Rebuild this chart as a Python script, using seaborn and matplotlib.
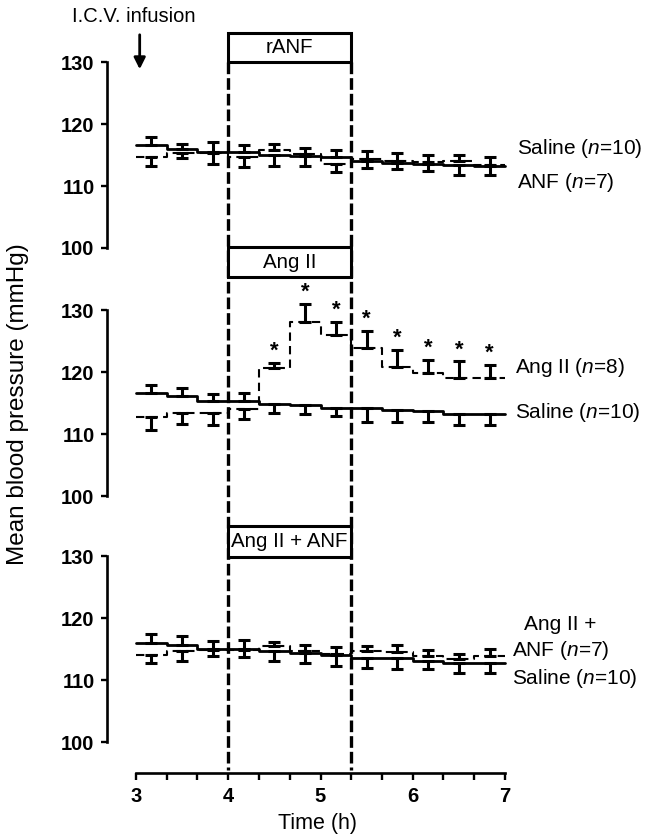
import numpy as np
import pandas as pd
import matplotlib
matplotlib.use('Agg')
import matplotlib.pyplot as plt
import seaborn as sns
from matplotlib.lines import Line2D
from matplotlib.patches import Rectangle, FancyArrowPatch
from matplotlib.transforms import blended_transform_factory

# 20-min recording periods (start of each period, in minutes)
period_start_min = [180, 200, 220, 240, 260, 280, 300, 320, 340, 360, 380, 400]
period_len_min = 20
infusion_start_min = 240
infusion_end_min = 320

# Panel 1: rANF vs saline
p1_saline = [116.6, 115.9, 115.5, 115.5, 115.0, 114.8, 114.7, 114.0, 113.7, 113.6, 113.4, 113.3]
p1_saline_sem = [1.3, 0.9, 1.6, 1.1, 1.7, 1.6, 1.1, 1.6, 1.7, 1.4, 1.7, 1.6]
p1_saline_dir = [1, 1, 1, 1, -1, -1, 1, 1, 1, 1, -1, -1]
p1_anf = [114.6, 115.4, 115.3, 114.6, 115.8, 115.1, 113.6, 114.3, 114.0, 113.8, 114.0, 113.4]
p1_anf_sem = [1.3, 0.9, 1.8, 1.6, 0.9, 1.0, 1.4, 1.4, 1.2, 1.3, 1.0, 1.3]
p1_anf_dir = [-1, -1, -1, -1, 1, 1, -1, -1, -1, -1, 1, 1]

# Panel 2: Ang II vs saline
p2_saline = [116.6, 116.1, 115.4, 115.3, 114.8, 114.6, 114.2, 114.2, 113.9, 113.7, 113.2, 113.2]
p2_saline_sem = [1.3, 1.3, 1.1, 1.3, 1.4, 1.4, 1.3, 2.2, 1.9, 1.7, 1.7, 1.7]
p2_saline_dir = [1, 1, 1, 1, -1, -1, -1, -1, -1, -1, -1, -1]
p2_angii = [112.7, 113.4, 113.4, 114.0, 120.6, 128.0, 125.9, 123.9, 120.8, 119.8, 119.0, 119.0]
p2_angii_sem = [2.0, 1.8, 1.9, 1.5, 0.9, 3.0, 2.1, 2.7, 2.8, 2.2, 2.7, 2.2]
p2_angii_dir = [-1, -1, -1, -1, 1, 1, 1, 1, 1, 1, 1, 1]
p2_angii_signif = [0, 0, 0, 0, 1, 1, 1, 1, 1, 1, 1, 1]

# Panel 3: Ang II + ANF vs saline
p3_saline = [115.9, 115.7, 115.0, 115.0, 114.6, 114.4, 114.1, 113.6, 113.5, 113.1, 112.8, 112.8]
p3_saline_sem = [1.6, 1.4, 1.3, 1.5, 1.5, 1.7, 1.8, 1.6, 1.7, 1.3, 1.6, 1.7]
p3_saline_dir = [1, 1, 1, 1, -1, -1, -1, -1, -1, -1, -1, -1]
p3_mix = [114.1, 114.6, 114.8, 114.8, 115.5, 114.7, 114.2, 114.7, 114.5, 113.8, 113.4, 113.8]
p3_mix_sem = [1.4, 1.5, 0.9, 1.1, 0.6, 1.0, 1.1, 0.8, 1.2, 1.0, 0.8, 1.2]
p3_mix_dir = [-1, -1, -1, -1, 1, 1, 1, 1, 1, 1, 1, 1]

yticks = [100, 110, 120, 130]
xtick_labels = ['3', '4', '5', '6', '7']

sns.set_theme(style='ticks')
plt.rcParams['font.family'] = ['Liberation Sans', 'DejaVu Sans']
plt.rcParams['mathtext.fontset'] = 'custom'
plt.rcParams['mathtext.it'] = 'Liberation Sans:italic'
plt.rcParams['mathtext.rm'] = 'Liberation Sans'
plt.rcParams['text.color'] = 'black'
plt.rcParams['xtick.labelcolor'] = 'black'
plt.rcParams['ytick.labelcolor'] = 'black'

W, H = 647, 840
fig = plt.figure(figsize=(W / 100, H / 100), dpi=100)

# layout in pixels
x3_px, x7_px = 136, 505
hour_px = (x7_px - x3_px) / 4
xlo, xhi = 2.95, 7.05
ax_left = x3_px - (3 - xlo) * hour_px
ax_width = (xhi - xlo) * hour_px
ylo, yhi = 95, 134


def panel_axes(y100_px, y130_px):
    unit = (y100_px - y130_px) / 30
    bottom = y100_px + (100 - ylo) * unit
    top = y130_px - (yhi - 130) * unit
    ax = fig.add_axes([ax_left / W, 1 - bottom / H, ax_width / W, (bottom - top) / H])
    ax.set_xlim(xlo, xhi)
    ax.set_ylim(ylo, yhi)
    ax.patch.set_alpha(0)
    for s in ['top', 'right', 'bottom']:
        ax.spines[s].set_visible(False)
    ax.spines['left'].set_position(('outward', (ax_left - 107) * 0.72))
    ax.spines['left'].set_bounds(100, 130)
    ax.spines['left'].set_linewidth(1.9)
    ax.spines['left'].set_color('black')
    ax.set_yticks(yticks)
    ax.set_yticklabels([str(v) for v in yticks], fontsize=14.5, fontweight='bold')
    ax.tick_params(axis='y', length=4, width=1.7, color='black', pad=5)
    ax.set_xticks([])
    ax.set_xlabel('')
    ax.set_ylabel('')
    return ax


def draw_series(ax, mean, sem, err_dir, dashed):
    starts = np.array(period_start_min) / 60
    ends = starts + period_len_min / 60
    mids = (starts + ends) / 2
    df = pd.DataFrame({'t': np.append(starts, ends[-1]), 'bp': np.append(mean, mean[-1])})
    if dashed:
        sns.lineplot(data=df, x='t', y='bp', ax=ax, drawstyle='steps-post', color='black',
                     lw=1.5, linestyle=(0, (4, 2.5)), errorbar=None)
    else:
        sns.lineplot(data=df, x='t', y='bp', ax=ax, drawstyle='steps-post', color='black',
                     lw=2.0, errorbar=None)
    lower = [s if d < 0 else 0 for s, d in zip(sem, err_dir)]
    upper = [s if d > 0 else 0 for s, d in zip(sem, err_dir)]
    ax.errorbar(mids, mean, yerr=[lower, upper], fmt='none', ecolor='black',
                elinewidth=2.2, capsize=4.2, capthick=2.2)
    ax.set_xlabel('')
    ax.set_ylabel('')
    return mids


ax1 = panel_axes(248, 62)
ax2 = panel_axes(496, 310)
ax3 = panel_axes(742, 556)

draw_series(ax1, p1_saline, p1_saline_sem, p1_saline_dir, False)
draw_series(ax1, p1_anf, p1_anf_sem, p1_anf_dir, True)

draw_series(ax2, p2_saline, p2_saline_sem, p2_saline_dir, False)
mids = draw_series(ax2, p2_angii, p2_angii_sem, p2_angii_dir, True)
for m, v, s, sig in zip(mids, p2_angii, p2_angii_sem, p2_angii_signif):
    if sig:
        ax2.text(m, v + s + 0.2, '*', ha='center', va='bottom', fontsize=16,
                 fontweight='bold', clip_on=False)

draw_series(ax3, p3_saline, p3_saline_sem, p3_saline_dir, False)
draw_series(ax3, p3_mix, p3_mix_sem, p3_mix_dir, True)

# time axis on bottom panel
ax3.spines['bottom'].set_visible(True)
ax3.spines['bottom'].set_bounds(3, 7)
ax3.spines['bottom'].set_linewidth(1.9)
ax3.spines['bottom'].set_color('black')
tick_pos = np.arange(180, 421, 20) / 60
ax3.set_xticks(tick_pos)
ax3.set_xticklabels([xtick_labels[i // 3] if i % 3 == 0 else '' for i in range(len(tick_pos))],
                    fontsize=14.5, fontweight='bold')
ax3.tick_params(axis='x', length=5, width=1.7, color='black', pad=5)

# series labels
lab_kw = dict(fontsize=15, va='center', ha='left', clip_on=False)
ax1.text(7.13, 116.1, 'Saline ($n$=10)', **lab_kw)
ax1.text(7.13, 110.5, 'ANF ($n$=7)', **lab_kw)
ax2.text(7.11, 120.8, 'Ang II ($n$=8)', **lab_kw)
ax2.text(7.11, 113.5, 'Saline ($n$=10)', **lab_kw)
ax3.text(7.21, 119.0, 'Ang II +', **lab_kw)
ax3.text(7.08, 114.7, 'ANF ($n$=7)', **lab_kw)
ax3.text(7.08, 110.3, 'Saline ($n$=10)', **lab_kw)

# infusion period: dashed verticals and boxes
trans = blended_transform_factory(ax3.transData, fig.transFigure)
t0 = infusion_start_min / 60
t1 = infusion_end_min / 60
for t in (t0, t1):
    fig.add_artist(Line2D([t, t], [1 - 62 / H, 1 - 770 / H], transform=trans, color='black',
                          lw=2.4, linestyle=(0, (3.5, 1.2)), zorder=2))
boxes = [('rANF', 33, 62), ('Ang II', 247, 277), ('Ang II + ANF', 526, 557)]
for label, ytop, ybot in boxes:
    fig.add_artist(Rectangle((t0, 1 - ybot / H), t1 - t0, (ybot - ytop) / H, transform=trans,
                             facecolor='white', edgecolor='black', lw=2.2, zorder=3))
    fig.text((t0 + t1) / 2, 1 - (ytop + ybot) / 2 / H, label, transform=trans,
             ha='center', va='center', fontsize=14.8, zorder=4)

# infusion arrow
fig.add_artist(FancyArrowPatch((3.04, 1 - 32 / H), (3.04, 1 - 72 / H),
                               transform=trans, arrowstyle='-|>',
                               mutation_scale=17, color='black', lw=2.0))
fig.text(134 / W, 1 - 16 / H, 'I.C.V. infusion', ha='center', va='center', fontsize=14.5)

fig.text(18 / W, 1 - 404 / H, 'Mean blood pressure (mmHg)', rotation=90,
         ha='center', va='center', fontsize=17.5)
fig.text(318 / W, 1 - 824 / H, 'Time (h)', ha='center', va='center', fontsize=15.5)

fig.savefig('out.png', dpi=100)
